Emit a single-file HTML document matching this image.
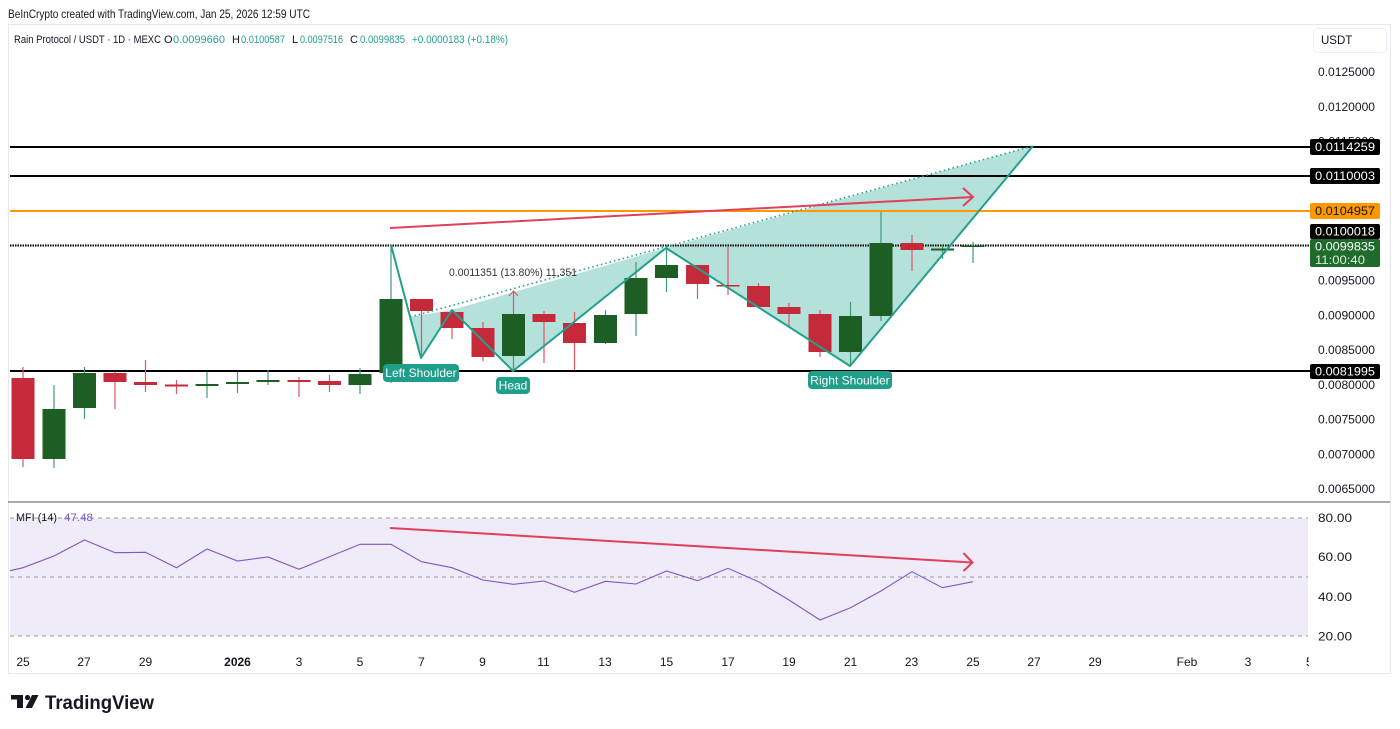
<!DOCTYPE html>
<html><head><meta charset="utf-8">
<style>
html,body{margin:0;padding:0;background:#fff;}
svg{display:block;font-family:"Liberation Sans",Arial,sans-serif;}
</style></head>
<body>
<svg width="1400" height="729" viewBox="0 0 1400 729" xmlns="http://www.w3.org/2000/svg">
<rect width="1400" height="729" fill="#fff"/>
<!-- header -->
<text x="8" y="18" font-size="12" fill="#131722" textLength="302" lengthAdjust="spacingAndGlyphs">BeInCrypto created with TradingView.com, Jan 25, 2026 12:59 UTC</text>
<rect x="8.5" y="24.5" width="1382" height="649" fill="none" stroke="#e6e8ee"/>
<g font-size="11">
<text x="14" y="43" fill="#131722" textLength="147" lengthAdjust="spacingAndGlyphs">Rain Protocol / USDT · 1D · MEXC</text>
<text x="164" y="43" fill="#131722">O</text>
<text x="173" y="43" fill="#22a08c" textLength="52" lengthAdjust="spacingAndGlyphs">0.0099660</text>
<text x="232" y="43" fill="#131722">H</text>
<text x="241" y="43" fill="#22a08c" textLength="44" lengthAdjust="spacingAndGlyphs">0.0100587</text>
<text x="292" y="43" fill="#131722">L</text>
<text x="300" y="43" fill="#22a08c" textLength="43" lengthAdjust="spacingAndGlyphs">0.0097516</text>
<text x="350" y="43" fill="#131722">C</text>
<text x="360" y="43" fill="#22a08c" textLength="45" lengthAdjust="spacingAndGlyphs">0.0099835</text>
<text x="412" y="43" fill="#22a08c" textLength="96" lengthAdjust="spacingAndGlyphs">+0.0000183 (+0.18%)</text>
</g>

<!-- price axis labels -->
<g font-size="11.5" fill="#131722">
<rect x="1313.5" y="28.5" width="73" height="24" rx="4" fill="#fff" stroke="#eceef2"/>
<text x="1321" y="44">USDT</text>
<text x="1318" y="76" textLength="57" lengthAdjust="spacingAndGlyphs">0.0125000</text>
<text x="1318" y="111" textLength="57" lengthAdjust="spacingAndGlyphs">0.0120000</text>
<text x="1318" y="145.5" textLength="57" lengthAdjust="spacingAndGlyphs">0.0115000</text>
<text x="1318" y="284.5" textLength="57" lengthAdjust="spacingAndGlyphs">0.0095000</text>
<text x="1318" y="319.5" textLength="57" lengthAdjust="spacingAndGlyphs">0.0090000</text>
<text x="1318" y="354" textLength="57" lengthAdjust="spacingAndGlyphs">0.0085000</text>
<text x="1318" y="389" textLength="57" lengthAdjust="spacingAndGlyphs">0.0080000</text>
<text x="1318" y="423.5" textLength="57" lengthAdjust="spacingAndGlyphs">0.0075000</text>
<text x="1318" y="458.5" textLength="57" lengthAdjust="spacingAndGlyphs">0.0070000</text>
<text x="1318" y="493" textLength="57" lengthAdjust="spacingAndGlyphs">0.0065000</text>
<text x="1318" y="522" textLength="34" lengthAdjust="spacingAndGlyphs">80.00</text>
<text x="1318" y="561" textLength="34" lengthAdjust="spacingAndGlyphs">60.00</text>
<text x="1318" y="601" textLength="34" lengthAdjust="spacingAndGlyphs">40.00</text>
<text x="1318" y="640.5" textLength="34" lengthAdjust="spacingAndGlyphs">20.00</text>
</g>

<!-- pattern fill -->
<g fill="rgba(34,168,146,0.34)" stroke="none">
<polygon points="410,317 421,358 452,310"/>
<polygon points="452,310 513,371 666,248"/>
<polygon points="666,248 850,366 1033,146"/>
</g>

<!-- horizontal levels -->
<g stroke-width="2">
<line x1="10" y1="147" x2="1310" y2="147" stroke="#000"/>
<line x1="10" y1="176" x2="1310" y2="176" stroke="#000"/>
<line x1="10" y1="211" x2="1310" y2="211" stroke="#ff9800"/>
<line x1="10" y1="245.5" x2="1310" y2="245.5" stroke="#000" stroke-dasharray="1.5 1"/>
<line x1="10" y1="371" x2="1310" y2="371" stroke="#000"/>
</g>

<!-- candles -->
<g id="candles">
<!-- wicks -->
<g stroke-width="1.2">
<line x1="23" y1="367" x2="23" y2="467" stroke="#e05566"/>
<line x1="54" y1="385" x2="54" y2="468" stroke="#3f9a78"/>
<line x1="84.5" y1="367" x2="84.5" y2="419" stroke="#3f9a78"/>
<line x1="115" y1="372" x2="115" y2="409" stroke="#e05566"/>
<line x1="145.5" y1="360" x2="145.5" y2="392" stroke="#e05566"/>
<line x1="176.5" y1="380" x2="176.5" y2="394" stroke="#e05566"/>
<line x1="207" y1="372" x2="207" y2="398" stroke="#3f9a78"/>
<line x1="237.5" y1="372" x2="237.5" y2="393" stroke="#3f9a78"/>
<line x1="268" y1="370" x2="268" y2="385" stroke="#3f9a78"/>
<line x1="299" y1="377" x2="299" y2="397" stroke="#e05566"/>
<line x1="329.5" y1="375" x2="329.5" y2="392" stroke="#e05566"/>
<line x1="360" y1="368" x2="360" y2="394" stroke="#3f9a78"/>
<line x1="391" y1="245" x2="391" y2="383" stroke="#3f9a78"/>
<line x1="421.5" y1="299" x2="421.5" y2="357" stroke="#e05566"/>
<line x1="452" y1="309" x2="452" y2="339" stroke="#e05566"/>
<line x1="483" y1="322" x2="483" y2="361" stroke="#e05566"/>
<line x1="513.5" y1="313" x2="513.5" y2="370" stroke="#3f9a78"/>
<line x1="544" y1="311" x2="544" y2="363" stroke="#e05566"/>
<line x1="574.5" y1="312" x2="574.5" y2="370" stroke="#e05566"/>
<line x1="605.5" y1="310" x2="605.5" y2="344" stroke="#3f9a78"/>
<line x1="636" y1="262" x2="636" y2="336" stroke="#3f9a78"/>
<line x1="666.5" y1="248" x2="666.5" y2="292" stroke="#3f9a78"/>
<line x1="697.5" y1="265" x2="697.5" y2="299" stroke="#e05566"/>
<line x1="728" y1="246" x2="728" y2="295" stroke="#e05566"/>
<line x1="758.5" y1="283" x2="758.5" y2="307" stroke="#e05566"/>
<line x1="789" y1="303" x2="789" y2="327" stroke="#e05566"/>
<line x1="820" y1="310" x2="820" y2="357" stroke="#e05566"/>
<line x1="850.5" y1="302" x2="850.5" y2="365" stroke="#3f9a78"/>
<line x1="881" y1="212" x2="881" y2="321" stroke="#3f9a78"/>
<line x1="912" y1="235" x2="912" y2="271" stroke="#e05566"/>
<line x1="942.5" y1="245" x2="942.5" y2="259" stroke="#3f9a78"/>
<line x1="973" y1="242" x2="973" y2="263" stroke="#3f9a78"/>
</g>
<!-- bodies -->
<g>
<rect x="11.5" y="378" width="23" height="81" fill="#c42a39"/>
<rect x="42.5" y="409" width="23" height="50" fill="#1c5e24"/>
<rect x="73" y="373" width="23" height="35" fill="#1c5e24"/>
<rect x="103.5" y="373" width="23" height="9" fill="#c42a39"/>
<rect x="134" y="382" width="23" height="3" fill="#c42a39"/>
<rect x="165" y="384.5" width="23" height="2" fill="#c42a39"/>
<rect x="195.5" y="384" width="23" height="2" fill="#1c5e24"/>
<rect x="226" y="382" width="23" height="2" fill="#1c5e24"/>
<rect x="256.5" y="380" width="23" height="2" fill="#1c5e24"/>
<rect x="287.5" y="380" width="23" height="2" fill="#c42a39"/>
<rect x="318" y="381" width="23" height="4" fill="#c42a39"/>
<rect x="348.5" y="374" width="23" height="11" fill="#1c5e24"/>
<rect x="379.5" y="299" width="23" height="74" fill="#1c5e24"/>
<rect x="410" y="299" width="23" height="12" fill="#c42a39"/>
<rect x="440.5" y="312" width="23" height="16" fill="#c42a39"/>
<rect x="471.5" y="328" width="23" height="29" fill="#c42a39"/>
<rect x="502" y="314" width="23" height="42" fill="#1c5e24"/>
<rect x="532.5" y="314" width="23" height="8" fill="#c42a39"/>
<rect x="563" y="323" width="23" height="20" fill="#c42a39"/>
<rect x="594" y="315" width="23" height="28" fill="#1c5e24"/>
<rect x="624.5" y="278" width="23" height="36" fill="#1c5e24"/>
<rect x="655" y="265" width="23" height="13" fill="#1c5e24"/>
<rect x="686" y="265" width="23" height="19" fill="#c42a39"/>
<rect x="716.5" y="285" width="23" height="1.5" fill="#c42a39"/>
<rect x="747" y="286" width="23" height="21" fill="#c42a39"/>
<rect x="777.5" y="307" width="23" height="7" fill="#c42a39"/>
<rect x="808.5" y="314" width="23" height="38" fill="#c42a39"/>
<rect x="839" y="316" width="23" height="36" fill="#1c5e24"/>
<rect x="869.5" y="243" width="23" height="73" fill="#1c5e24"/>
<rect x="900.5" y="243" width="23" height="7" fill="#c42a39"/>
<rect x="931" y="248.5" width="23" height="2" fill="#1c5e24"/>
<rect x="961.5" y="245.5" width="23" height="1.5" fill="#1c5e24"/>
</g>
</g>

<!-- pattern lines -->
<polyline points="391,245 421,358 452,310 513,371 666,248 850,366 1033,146" fill="none" stroke="#22a08c" stroke-width="2" stroke-linejoin="round"/>
<line x1="410" y1="317" x2="1033" y2="146" stroke="#22a08c" stroke-width="1.6" stroke-dasharray="1.5 3"/>

<!-- measure -->
<line x1="513.5" y1="313" x2="513.5" y2="292" stroke="#e05566" stroke-width="1.2"/>
<polyline points="509,296 513.5,291 518,296" fill="none" stroke="#e05566" stroke-width="1.2"/>
<text x="449" y="276" font-size="11" fill="#333" textLength="128" lengthAdjust="spacingAndGlyphs">0.0011351 (13.80%) 11,351</text>

<!-- red arrow price -->
<line x1="390" y1="228" x2="973" y2="197" stroke="#e0405a" stroke-width="2"/>
<polyline points="963,188 973,197 963,206" fill="none" stroke="#e0405a" stroke-width="2"/>

<!-- pattern labels -->
<g font-size="12" fill="#fff">
<rect x="383" y="364" width="76" height="18" rx="4" fill="#1f9e8a"/>
<text x="421" y="377" text-anchor="middle">Left Shoulder</text>
<rect x="496" y="377" width="34" height="17" rx="4" fill="#1f9e8a"/>
<text x="513" y="389.5" text-anchor="middle">Head</text>
<rect x="808" y="371" width="84" height="18" rx="4" fill="#1f9e8a"/>
<text x="850" y="384.5" text-anchor="middle">Right Shoulder</text>
</g>

<!-- price level labels -->
<g font-size="11.5">
<rect x="1310" y="139" width="70" height="16" rx="2" fill="#000"/>
<text x="1315" y="151" fill="#fff" textLength="60" lengthAdjust="spacingAndGlyphs">0.0114259</text>
<rect x="1310" y="168" width="70" height="16" rx="2" fill="#000"/>
<text x="1315" y="180" fill="#fff" textLength="60" lengthAdjust="spacingAndGlyphs">0.0110003</text>
<rect x="1310" y="203" width="70" height="16" rx="2" fill="#ff9800"/>
<text x="1315" y="215" fill="#131722" textLength="60" lengthAdjust="spacingAndGlyphs">0.0104957</text>
<rect x="1310" y="224" width="70" height="15" rx="2" fill="#000"/>
<text x="1315" y="235.5" fill="#fff" textLength="60" lengthAdjust="spacingAndGlyphs">0.0100018</text>
<rect x="1310" y="239" width="70" height="28" rx="2" fill="#1f6b2b"/>
<text x="1315" y="250.5" fill="#fff" textLength="60" lengthAdjust="spacingAndGlyphs">0.0099835</text>
<text x="1315" y="264" fill="#dfeee2" textLength="50" lengthAdjust="spacingAndGlyphs">11:00:40</text>
<rect x="1310" y="364" width="70" height="15" rx="2" fill="#000"/>
<text x="1315" y="375.5" fill="#fff" textLength="60" lengthAdjust="spacingAndGlyphs">0.0081995</text>
</g>

<!-- pane separator -->
<line x1="8" y1="502" x2="1390" y2="502" stroke="#555" stroke-width="1"/>

<!-- MFI pane -->
<rect x="10" y="518" width="1298" height="118" fill="#efebf8"/>
<g stroke="#9a9a9a" stroke-width="1" stroke-dasharray="4 4">
<line x1="10" y1="518" x2="1308" y2="518"/>
<line x1="10" y1="577" x2="1308" y2="577"/>
<line x1="10" y1="636" x2="1308" y2="636"/>
</g>
<rect x="14" y="510" width="48" height="14" fill="#fff" opacity="0"/>
<text x="16" y="521" font-size="11" fill="#131722" textLength="41" lengthAdjust="spacingAndGlyphs">MFI (14)</text>
<text x="64" y="521" font-size="11" fill="#7e57c2" textLength="29" lengthAdjust="spacingAndGlyphs">47.48</text>
<polyline fill="none" stroke="#7e57c2" stroke-width="1.1" points="10,570.7 23,567.7 54,556 84.5,540 115,552.7 145.5,552.3 176.5,567.7 207,549 237.5,561 268,557 299,569.3 329.5,556.7 360,544.3 391,544.3 421.5,561.7 452,567.7 483,580 513.5,584.3 544,581 574.5,592.3 605.5,581.3 636,584 666.5,571 697.5,580.7 728,568.3 758.5,581.7 789,600 820,620 850.5,607.7 881,591 912,571.7 942.5,587.7 973,581.7"/>
<line x1="390" y1="528" x2="972" y2="562.5" stroke="#e0405a" stroke-width="2"/>
<polyline points="963.5,553 972.5,562.5 963.5,571" fill="none" stroke="#e0405a" stroke-width="2"/>

<!-- x axis -->
<g font-size="12" fill="#131722" text-anchor="middle">
<text x="23" y="666">25</text>
<text x="84" y="666">27</text>
<text x="145.5" y="666">29</text>
<text x="237.5" y="666" font-weight="bold">2026</text>
<text x="299" y="666">3</text>
<text x="360" y="666">5</text>
<text x="421.5" y="666">7</text>
<text x="482.5" y="666">9</text>
<text x="543.5" y="666">11</text>
<text x="605" y="666">13</text>
<text x="666.5" y="666">15</text>
<text x="728" y="666">17</text>
<text x="789" y="666">19</text>
<text x="850.5" y="666">21</text>
<text x="911.5" y="666">23</text>
<text x="973" y="666">25</text>
<text x="1034" y="666">27</text>
<text x="1095" y="666">29</text>
<text x="1187" y="666">Feb</text>
<text x="1248" y="666">3</text>
</g>
<text x="1306" y="666" font-size="12" fill="#131722">5</text>
<rect x="1309" y="655" width="10" height="16" fill="#fff"/>

<!-- TradingView logo -->
<g fill="#131722">
<rect x="11" y="695" width="12" height="4.5"/>
<rect x="17" y="695" width="6" height="13"/>
<circle cx="27.5" cy="697.5" r="2.6"/>
<polygon points="32,695 38.5,695 32,708 25.5,708"/>
</g>
<text x="45" y="709" font-size="19" font-weight="bold" fill="#131722" textLength="109" lengthAdjust="spacingAndGlyphs">TradingView</text>
</svg>
</body></html>
